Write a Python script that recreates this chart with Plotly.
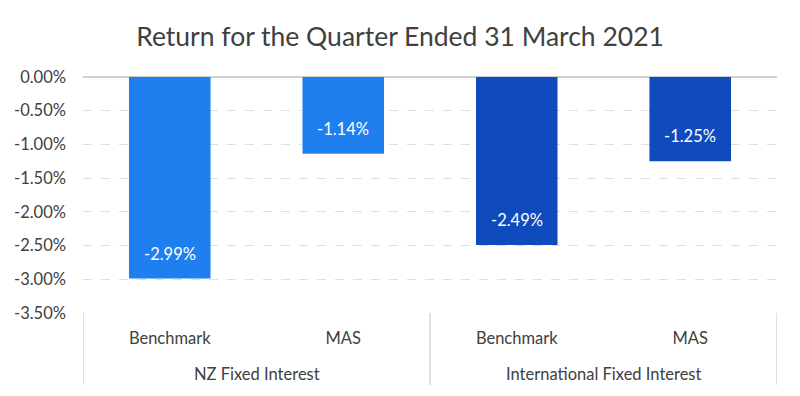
import plotly.graph_objects as go

groups = ["NZ Fixed Interest", "International Fixed Interest"]
series_labels = ["Benchmark", "MAS", "Benchmark", "MAS"]
returns = [-0.0299, -0.0114, -0.0249, -0.0125]
bar_text = ["-2.99%", "-1.14%", "-2.49%", "-1.25%"]
bar_colors = ["#1f7fef", "#1f7fef", "#0f4bbd", "#0f4bbd"]
y_tickvals = [0, -0.005, -0.01, -0.015, -0.02, -0.025, -0.03, -0.035]
y_ticktext = ["0.00%", "-0.50%", "-1.00%", "-1.50%", "-2.00%", "-2.50%", "-3.00%", "-3.50%"]

FONT = "Lato"
GREY = "#404040"

xs = list(range(len(returns)))

fig = go.Figure()
fig.add_trace(go.Bar(
    x=xs, y=returns, width=0.47,
    marker=dict(color=bar_colors, line=dict(width=0)),
    hoverinfo="skip",
))

annotations = []
for x, y, t in zip(xs, returns, bar_text):
    annotations.append(dict(x=x, y=y, xref="x", yref="y", text=t, showarrow=False,
                            yshift=25, font=dict(family=FONT, size=16.5, color="white")))
for i, g in enumerate(groups):
    annotations.append(dict(x=2 * i + 0.5, y=0, xref="x", yref="paper", yshift=-73,
                            text=g, showarrow=False,
                            font=dict(family=FONT, size=16.5, color=GREY)))

shapes = []
for sx in [-0.5, 1.5, 3.5]:
    shapes.append(dict(type="line", xref="x", yref="paper", x0=sx, x1=sx, y0=0, y1=-0.305,
                       line=dict(color="#d0d0d0", width=1.3)))

# page body has an 8px default margin: figure is sized/offset to compensate
fig.update_layout(
    width=792, height=388,
    margin=dict(l=75, r=23, t=69, b=83, autoexpand=False),
    paper_bgcolor="white", plot_bgcolor="white",
    title=dict(text="Return for the Quarter Ended 31 March 2021", x=0.495, xanchor="center",
               y=0.925, yanchor="middle",
               font=dict(family=FONT, size=26.5, color=GREY)),
    showlegend=False,
    annotations=annotations,
    shapes=shapes,
    xaxis=dict(range=[-0.5, 3.5], tickvals=xs, ticktext=series_labels,
               showgrid=False, zeroline=False, showline=False, ticks="", automargin=False,
               tickfont=dict(family=FONT, size=16.5, color=GREY), ticklabelstandoff=13),
    yaxis=dict(range=[-0.035, 0], tickvals=y_tickvals, ticktext=y_ticktext,
               showgrid=True, gridcolor="#dedede", griddash="dash", gridwidth=1,
               zeroline=True, zerolinecolor="#d0d0d0", zerolinewidth=1.5,
               showline=False, ticks="", automargin=False,
               tickfont=dict(family=FONT, size=16.5, color=GREY), ticklabelstandoff=16),
)

fig.write_html("out.html")
